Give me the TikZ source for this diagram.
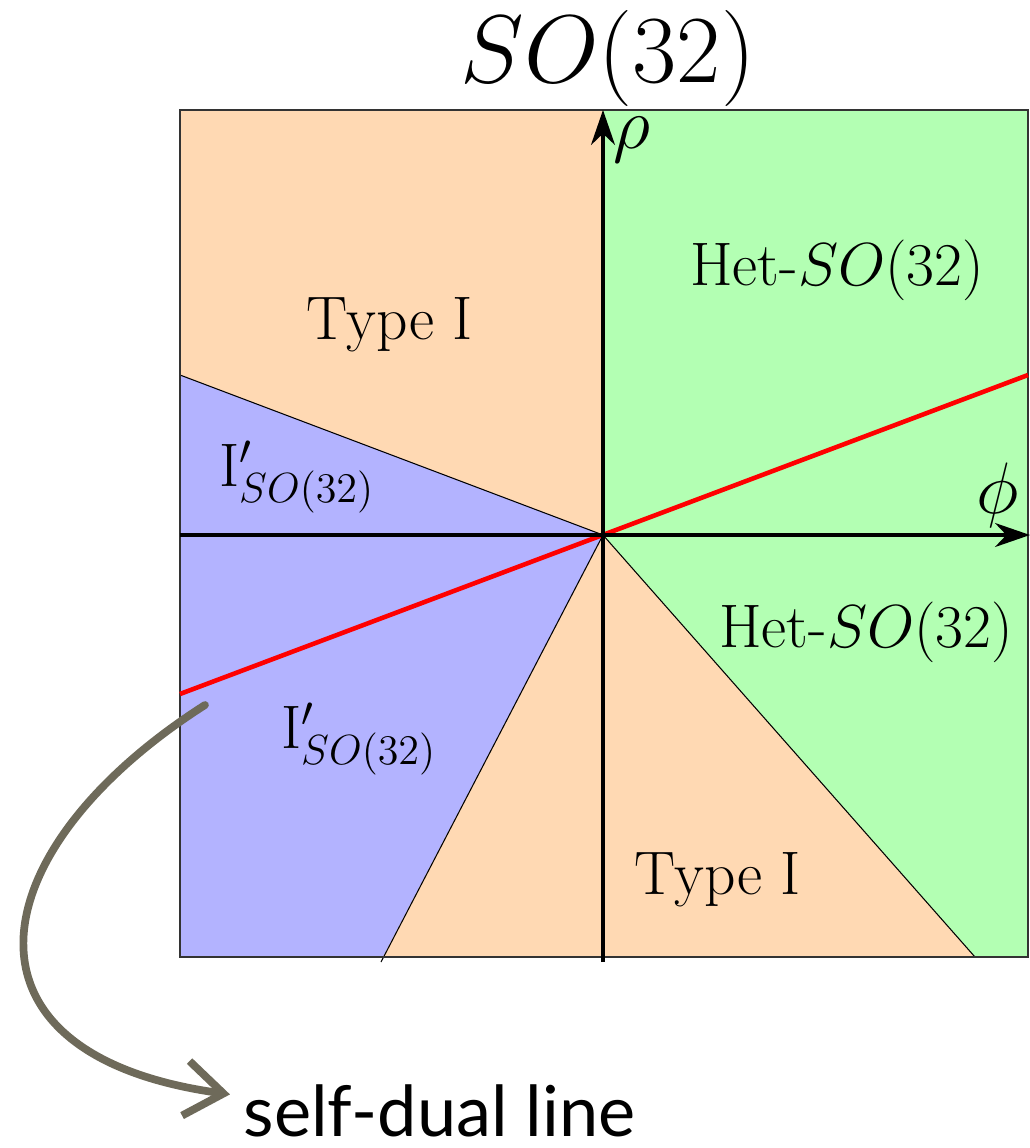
\documentclass[tikz,border=0pt]{standalone}
\usepackage{fontspec}
\newfontfamily\notefont{Lato}
\usetikzlibrary{arrows.meta}
\definecolor{TypeOne}{RGB}{255,217,179}
\definecolor{HetGreen}{RGB}{179,255,179}
\definecolor{PrimeBlue}{RGB}{179,179,255}
\definecolor{Brush}{HTML}{6E6A5A}

\begin{document}
\begin{tikzpicture}[font=\fontsize{17.5}{20}\selectfont,
    edge/.style={draw=black,line width=0.3pt},
    axis/.style={-{Stealth[length=3.5mm,width=2.4mm]},line width=0.9pt},
    brush/.style={draw=Brush,line width=2.2pt,line cap=round,
      -{Straight Barb[length=3.8mm,width=5.5mm,line width=2.2pt]}}]
    \useasboundingbox (-6.03,-6.13) rectangle (4.27,5.35);
    % regions
    \fill[TypeOne]   (-4.23,4.25) -- (0,4.25) -- (0,0) -- (-4.23,1.60) -- cycle;
    \fill[PrimeBlue] (-4.23,1.60) -- (0,0) -- (-2.20,-4.22) -- (-4.23,-4.22) -- cycle;
    \fill[TypeOne]   (-2.20,-4.22) -- (0,0) -- (3.72,-4.22) -- cycle;
    \fill[HetGreen]  (0,4.25) -- (4.25,4.25) -- (4.25,-4.22) -- (3.72,-4.22) -- (0,0) -- cycle;
    \draw[edge] (-4.23,1.60) -- (0,0) -- (-2.22,-4.27);
    \draw[edge] (0,0) -- (3.72,-4.22);
    \draw[line width=0.6pt,black!80] (-4.23,-4.22) rectangle (4.25,4.25);
    % self-dual line
    \draw[red,line width=1.3pt] (-4.23,-1.59) -- (4.25,1.60);
    \draw[axis] (-4.23,0) -- (4.27,0);
    \draw[axis] (0,-4.27) -- (0,4.25);
    \node[inner sep=1pt] (rholab) at (0.29,3.95) {\fontsize{20}{22}\selectfont $\rho$};
    \node (philab) at (3.95,0.40) {\fontsize{20}{22}\selectfont $\phi$};
    \node[scale=1.1,inner sep=1pt] (title) at (0.05,4.77) {\fontsize{24.88}{30}\selectfont $SO(32)$};
    % region labels
    \node (typeup)  at (-2.13,2.10) {Type I};
    \node (hetup)   at (2.34,2.65)  {Het-$SO(32)$};
    \node (primeup) at (-3.06,0.58) {$\mathrm{I}'_{SO(32)}$};
    \node (hetdown) at (2.63,-0.97) {Het-$SO(32)$};
    \node (primedn) at (-2.44,-2.04) {$\mathrm{I}'_{SO(32)}$};
    \node (typedn)  at (1.15,-3.45) {Type I};
    % note
    \node[font=\notefont\fontsize{20}{24}\selectfont,anchor=base west,inner sep=0pt]
      (sdlabel) at (-3.60,-6.01) {self-dual line};
    \coordinate (sdstart) at (-3.98,-1.70);
    \draw[brush] (sdstart) .. controls (-6.25,-3.15) and (-6.6,-5.20)
      .. ([xshift=-1.3mm,yshift=1.6mm]sdlabel.west);
\end{tikzpicture}
\end{document}
